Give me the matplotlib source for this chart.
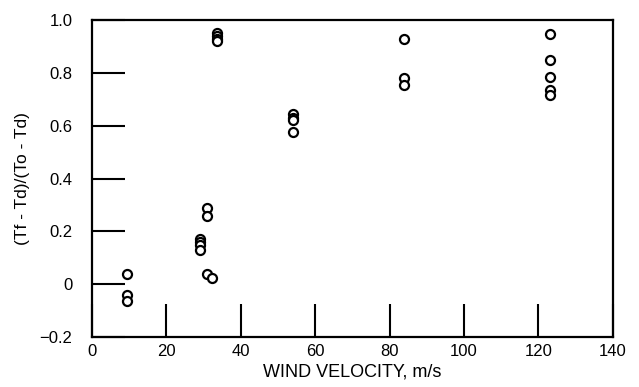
import matplotlib
matplotlib.use("Agg")
import matplotlib.pyplot as plt

plt.rcParams['font.family'] = ['Liberation Sans', 'DejaVu Sans']

# Data
wind_velocity = [9.5, 9.5, 9.5,
                 29, 29, 29, 29, 30.8, 30.8, 30.8, 32.3,
                 33.6, 33.6, 33.6, 33.6,
                 54, 54, 54, 54,
                 84, 84, 84,
                 123, 123, 123, 123, 123]
temp_ratio = [0.04, -0.04, -0.065,
              0.17, 0.16, 0.15, 0.13, 0.29, 0.26, 0.04, 0.025,
              0.95, 0.94, 0.93, 0.92,
              0.645, 0.63, 0.62, 0.575,
              0.93, 0.78, 0.755,
              0.947, 0.85, 0.785, 0.735, 0.715]

x_ticks = [0, 20, 40, 60, 80, 100, 120, 140]
y_ticks = [-0.2, 0, 0.2, 0.4, 0.6, 0.8, 1.0]
y_tick_labels = ['\u22120.2', '0', '0.2', '0.4', '0.6', '0.8', '1.0']

fig = plt.figure(figsize=(6.39, 3.87), dpi=100)
ax = fig.add_axes([0.144, 0.129, 0.815, 0.819])

ax.plot(wind_velocity, temp_ratio, linestyle='none', marker='o',
        markersize=6.5, markerfacecolor='white', markeredgecolor='black',
        markeredgewidth=1.6)

ax.set_xlim(0, 140)
ax.set_ylim(-0.2, 1.0)
ax.set_xticks(x_ticks)
ax.set_xticklabels([str(v) for v in x_ticks])
ax.set_yticks(y_ticks)
ax.set_yticklabels(y_tick_labels)

ax.tick_params(axis='both', direction='in', length=24, width=1.5,
               labelsize=12, color='black')
ax.tick_params(axis='y', pad=14)
ax.tick_params(axis='x', pad=5)
for s in ax.spines.values():
    s.set_linewidth(1.6)
    s.set_color('black')

ax.set_xlabel('WIND VELOCITY, m/s', fontsize=13, labelpad=3)
ax.set_ylabel('(Tf - Td)/(To - Td)', fontsize=12.5, labelpad=7)

fig.savefig('out.png', dpi=100)
